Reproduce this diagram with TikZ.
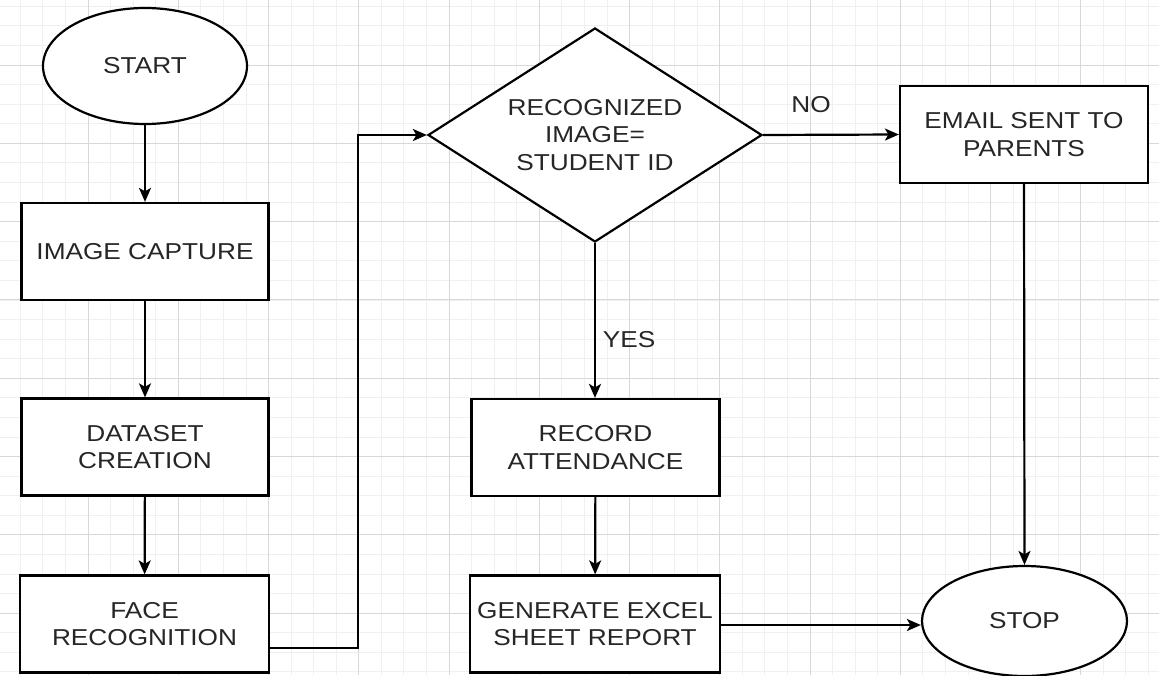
\documentclass[tikz,border=0pt]{standalone}
\usepackage{fontspec}
\setmainfont{Liberation Sans}[FakeStretch=1.14]
\usetikzlibrary{shapes.geometric,arrows.meta}
\definecolor{gridmajor}{HTML}{D8D8D8}
\definecolor{gridminor}{HTML}{F0F0F0}
\definecolor{txt}{HTML}{262626}
\begin{document}
\begin{tikzpicture}[x=1pt,y=-1pt,
  base/.style={draw=black,line width=2.2pt,fill=white,align=center,
    font=\fontsize{23}{27.5}\selectfont,text=txt,inner sep=0pt},
  box/.style={base,rectangle,minimum width=247pt,minimum height=97pt},
  oval/.style={base,ellipse,minimum width=204pt,minimum height=116pt},
  decision/.style={base,diamond,aspect=1.56,minimum width=334pt,minimum height=214pt},
  lbl/.style={font=\fontsize{23}{27.5}\selectfont,text=txt,inner sep=0pt},
  flow/.style={line width=2.2pt,-{Stealth[length=14pt,width=12pt,inset=3.5pt]}}
]
\useasboundingbox (0,0) rectangle (1159,675);
\fill[white] (0,0) rectangle (1159,675);
% minor grid
\foreach \i in {-4,...,52} {
  \pgfmathsetmacro{\gx}{88+90.25*\i/4}
  \draw[gridminor,line width=0.8pt] (\gx,0) -- (\gx,675);
}
\foreach \j in {-4,...,36} {
  \pgfmathsetmacro{\gy}{65+78.3*\j/4}
  \draw[gridminor,line width=0.8pt] (0,\gy) -- (1159,\gy);
}
% major grid
\foreach \i in {-1,...,13} {
  \pgfmathsetmacro{\gx}{88+90.25*\i}
  \draw[gridmajor,line width=1pt] (\gx,0) -- (\gx,675);
}
\foreach \j in {-1,...,9} {
  \pgfmathsetmacro{\gy}{65+78.3*\j}
  \draw[gridmajor,line width=1pt] (0,\gy) -- (1159,\gy);
}

% nodes
\node[oval] (start) at (145,66) {START};
\node[box] (cap) at (145,251.5) {IMAGE CAPTURE};
\node[box] (data) at (145,447) {DATASET\\CREATION};
\node[box,minimum width=249pt] (face) at (144.5,624) {FACE\\RECOGNITION};
\node[decision] (dec) at (595,135) {RECOGNIZED\\IMAGE=\\STUDENT ID};
\node[box,minimum width=248pt] (email) at (1024,134.5) {EMAIL SENT TO\\PARENTS};
\node[box,minimum width=248pt] (rec) at (595.5,447.5) {RECORD\\ATTENDANCE};
\node[box,minimum width=250pt] (gen) at (595,624) {GENERATE EXCEL\\SHEET REPORT};
\node[oval,minimum width=205pt,minimum height=110pt] (stop) at (1024.5,621) {STOP};

\node[lbl] (yes) at (629,340) {YES};
\node[lbl] (no) at (811,105) {NO};

% connectors
\draw[flow] (start) -- (cap);
\draw[flow] (cap) -- (data);
\draw[flow] (data) -- (face);
\coordinate (bend) at (358,648);
\draw[flow] ([yshift=-24pt]face.east) -- (bend) |- (dec.west);
\draw[flow] (dec.south) -- (rec.north -| dec.south);
\draw[flow] (dec.east) -- (email.west);
\draw[flow] (rec) -- (gen);
\draw[flow] (email.south) -- (stop.north);
\draw[flow] ([yshift=-1pt]gen.east) -- ([yshift=-1pt]gen.east -| stop.west);
\end{tikzpicture}
\end{document}
